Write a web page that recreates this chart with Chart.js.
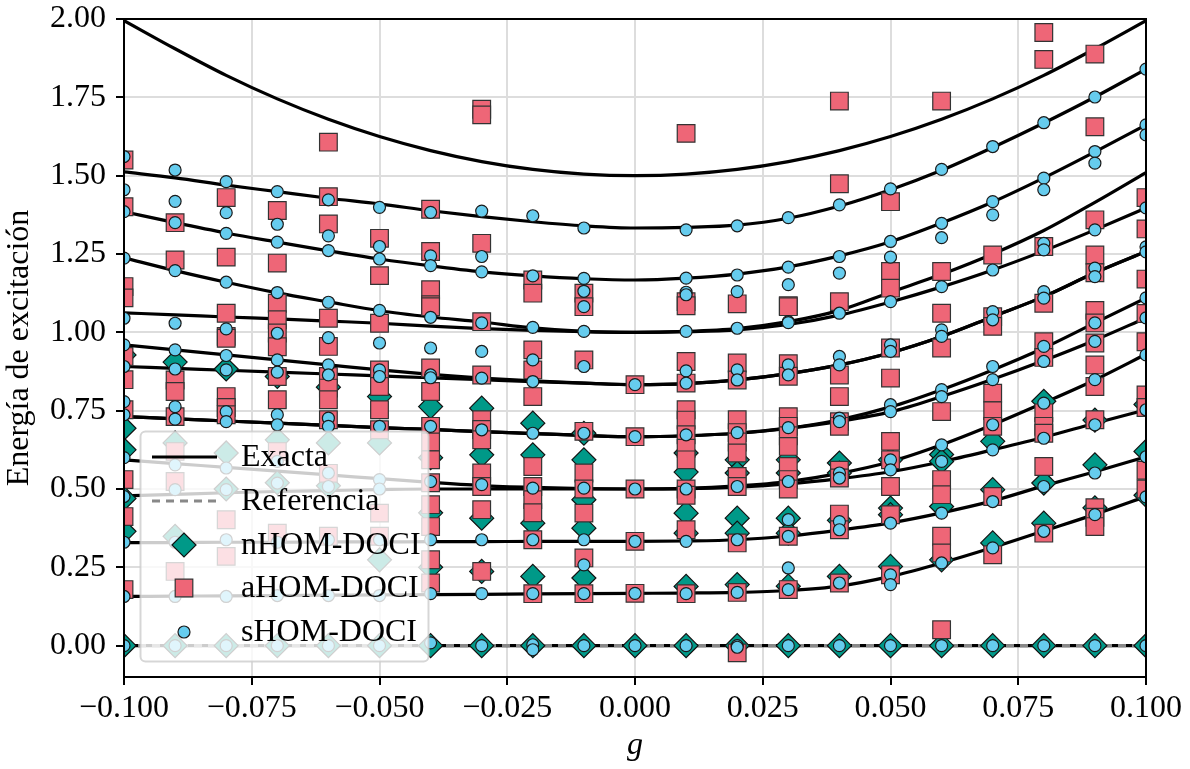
<!DOCTYPE html>
<html>
<head>
<meta charset="utf-8">
<script src="https://cdn.jsdelivr.net/npm/chart.js@4.4.1/dist/chart.umd.min.js"></script>
<style>
  html, body { margin: 0; padding: 0; background: #fff; }
  #wrap { width: 1190px; height: 769px; }
</style>
</head>
<body>
<div id="wrap"><canvas id="myChart" width="1190" height="769"></canvas></div>
<script>
// coupling values g
var gValues = [-0.1, -0.09, -0.08, -0.07, -0.06, -0.05, -0.04, -0.03, -0.02, -0.01, 0,
               0.01, 0.02, 0.03, 0.04, 0.05, 0.06, 0.07, 0.08, 0.09, 0.1];
var xTicks = [-0.1, -0.075, -0.05, -0.025, 0, 0.025, 0.05, 0.075, 0.1];
var yTicks = [0, 0.25, 0.5, 0.75, 1, 1.25, 1.5, 1.75, 2];

// exact excitation energies, one list per state
var e150  = [1.995,1.905,1.82,1.745,1.68,1.625,1.58,1.545,1.52,1.505,1.5,1.505,1.52,1.545,1.58,1.625,1.68,1.745,1.82,1.905,1.995];
var e133  = [1.512,1.493,1.47,1.449,1.428,1.41,1.388,1.369,1.353,1.34,1.333,1.335,1.342,1.364,1.403,1.455,1.517,1.59,1.668,1.751,1.84];
var e117  = [1.385,1.35,1.317,1.288,1.26,1.234,1.212,1.193,1.18,1.171,1.167,1.173,1.186,1.209,1.244,1.289,1.349,1.416,1.493,1.576,1.662];
var e100a = [1.238,1.197,1.16,1.126,1.097,1.069,1.049,1.033,1.014,1.003,1.0,1.003,1.012,1.034,1.07,1.128,1.185,1.25,1.325,1.415,1.51];
var e100b = [1.062,1.056,1.049,1.043,1.036,1.029,1.02,1.012,1.006,1.002,1.0,1.002,1.008,1.025,1.055,1.097,1.145,1.199,1.26,1.327,1.397];
var e083a = [0.96,0.944,0.928,0.912,0.896,0.88,0.866,0.854,0.845,0.838,0.833,0.836,0.848,0.868,0.896,0.935,0.987,1.05,1.114,1.19,1.258];
var e083b = [0.891,0.885,0.879,0.873,0.867,0.861,0.855,0.849,0.843,0.838,0.833,0.836,0.848,0.868,0.896,0.935,0.987,1.05,1.114,1.19,1.258];
var e067a = [0.731,0.724,0.717,0.71,0.703,0.696,0.69,0.683,0.677,0.671,0.667,0.67,0.678,0.694,0.721,0.762,0.817,0.88,0.95,1.03,1.11];
var e067b = [0.731,0.724,0.717,0.71,0.703,0.696,0.69,0.683,0.677,0.671,0.667,0.67,0.678,0.694,0.716,0.746,0.795,0.85,0.91,0.975,1.046];
var e050a = [0.593,0.581,0.569,0.557,0.545,0.533,0.521,0.511,0.505,0.501,0.5,0.502,0.51,0.524,0.55,0.587,0.641,0.705,0.775,0.848,0.93];
var e050b = [0.478,0.483,0.488,0.492,0.495,0.498,0.5,0.5,0.5,0.5,0.5,0.501,0.506,0.516,0.533,0.555,0.587,0.625,0.665,0.71,0.753];
var e033  = [0.329,0.329,0.33,0.33,0.331,0.331,0.332,0.332,0.333,0.333,0.333,0.334,0.338,0.35,0.369,0.392,0.424,0.462,0.51,0.555,0.603];
var e017  = [0.157,0.158,0.159,0.16,0.161,0.162,0.163,0.164,0.165,0.166,0.167,0.168,0.17,0.176,0.19,0.221,0.264,0.313,0.366,0.419,0.476];
var e000  = [0,0,0,0,0,0,0,0,0,0,0,0,0,0,0,0,0,0,0,0,0];
var reference = [0,0,0,0,0,0,0,0,0,0,0,0,0,0,0,0,0,0,0,0,0];

// HOM-DOCI results, one list of energies per g value
var nhom = [
  [0.928,0.694,0.625,0.47,0.365,0],
  [0.905,0.647,0.349,0],
  [0.883,0.615,0.5,0],
  [0.859,0.657,0.52,0],
  [0.825,0.647,0.51,0],
  [0.795,0.647,0.274,0],
  [0.763,0.6,0.424,0.25,0],
  [0.758,0.609,0.407,0.237,0],
  [0.71,0.609,0.391,0.221,0],
  [0.678,0.593,0.466,0.375,0.216,0],
  [0],
  [0.615,0.554,0.423,0.359,0.189,0],
  [0.593,0.551,0.407,0.359,0.195,0],
  [0.593,0.551,0.407,0.359,0.19,0],
  [0.583,0.551,0.4,0.221,0],
  [0.593,0.439,0.418,0.253,0],
  [0.61,0.588,0.444,0.274,0],
  [0.652,0.498,0.328,0],
  [0.78,0.519,0.391,0],
  [0.72,0.577,0.44,0],
  [0.77,0.62,0.48,0]
];
var ahom = [
  [1.55,1.401,1.146,1.11,0.923,0.849,0.753,0.53,0.412,0.179],
  [1.35,1.231,0.848,0.811,0.731,0.62,0.524,0.237],
  [1.43,1.24,1.061,0.987,0.981,0.795,0.76,0.737,0.402,0.285],
  [1.389,1.221,1.093,1.04,0.998,0.954,0.859,0.785,0.62,0.359],
  [1.607,1.433,1.346,1.045,0.955,0.859,0.822,0.785,0.721,0.55,0.349],
  [1.3,1.181,1.029,0.88,0.827,0.753,0.689,0.423,0.349],
  [1.393,1.258,1.136,1.088,1.082,0.886,0.811,0.7,0.65,0.593,0.52,0.45,0.38,0.274,0.2],
  [1.712,1.694,1.284,1.034,0.864,0.721,0.69,0.657,0.551,0.508,0.434,0.237],
  [1.167,1.125,0.944,0.88,0.795,0.572,0.508,0.466,0.424,0.338,0.166],
  [1.125,1.082,0.912,0.684,0.551,0.5,0.423,0.28,0.166],
  [0.833,0.667,0.5,0.333,0.167],
  [1.635,1.098,1.085,0.907,0.838,0.753,0.72,0.673,0.63,0.593,0.5,0.48,0.37,0.166],
  [1.091,0.902,0.848,0.721,0.68,0.65,0.615,0.54,0.508,0.328,0.17,-0.023],
  [1.085,1.082,0.9,0.86,0.731,0.7,0.67,0.636,0.572,0.53,0.5,0.349,0.179],
  [1.738,1.474,1.098,0.864,0.795,0.715,0.7,0.56,0.535,0.42,0.37,0.2],
  [1.417,1.194,1.141,0.95,0.854,0.652,0.593,0.508,0.418,0.226],
  [1.738,1.194,1.061,0.95,0.747,0.53,0.482,0.349,0.296,0.051],
  [1.247,1.05,1.019,0.806,0.75,0.7,0.476,0.29],
  [1.957,1.871,1.274,1.093,0.97,0.92,0.743,0.7,0.678,0.572,0.359],
  [1.888,1.656,1.359,1.247,1.19,1.07,1.03,0.966,0.896,0.827,0.721,0.44,0.41,0.38],
  [1.43,1.33,1.17,1.06,0.97,0.8,0.76,0.56,0.5]
];
var shom = [
  [1.561,1.455,1.385,1.237,1.045,0.96,0.891,0.779,0.737,0.6,0.476,0.33,0.157,0],
  [1.518,1.418,1.35,1.197,1.029,0.944,0.883,0.763,0.723,0.577,0.498,0.33,0.157,0],
  [1.481,1.382,1.316,1.16,1.011,0.926,0.88,0.747,0.715,0.567,0.498,0.338,0.157,0],
  [1.449,1.345,1.288,1.127,0.997,0.912,0.873,0.737,0.705,0.588,0.519,0.33,0.16,0],
  [1.423,1.308,1.261,1.096,0.983,0.896,0.864,0.726,0.7,0.551,0.508,0.338,0.16,0],
  [1.399,1.274,1.234,1.07,0.966,0.88,0.859,0.7,0.53,0.5,0.338,0.16,0],
  [1.383,1.244,1.213,1.048,0.95,0.864,0.855,0.7,0.524,0.338,0.166,0.009],
  [1.387,1.242,1.193,1.03,0.939,0.854,0.689,0.514,0.338,0.166,0],
  [1.372,1.18,1.016,0.912,0.843,0.678,0.503,0.338,0.166,0.003,-0.013],
  [1.333,1.172,1.131,1.082,1.003,0.891,0.678,0.503,0.338,0.258,0.166,0],
  [0.833,0.667,0.5,0.333,0.167,0],
  [1.327,1.173,1.128,1.12,1.003,0.877,0.838,0.673,0.5,0.333,0.166,0],
  [1.34,1.183,1.13,1.013,0.88,0.848,0.68,0.508,0.338,0.17,0,-0.005],
  [1.366,1.208,1.152,1.034,1.031,0.896,0.864,0.696,0.524,0.402,0.349,0.248,0.179,0],
  [1.407,1.242,1.189,1.061,0.923,0.896,0.726,0.715,0.551,0.535,0.396,0.37,0.2,0],
  [1.458,1.29,1.24,1.098,0.96,0.939,0.769,0.747,0.593,0.561,0.391,0.226,0.195,0],
  [1.52,1.348,1.302,1.146,1.008,0.987,0.817,0.795,0.641,0.588,0.423,0.264,0],
  [1.593,1.417,1.375,1.199,1.066,1.04,0.891,0.849,0.705,0.625,0.46,0.312,0],
  [1.669,1.492,1.455,1.284,1.263,1.13,1.109,0.955,0.907,0.774,0.662,0.508,0.365,0],
  [1.751,1.577,1.54,1.327,1.205,1.178,1.03,0.971,0.849,0.705,0.551,0.418,0],
  [1.84,1.662,1.63,1.397,1.273,1.257,1.11,1.046,0.928,0.753,0.603,0.475,0]
];

var exactCurves = [e150, e133, e117, e100a, e100b, e083a, e083b, e067a, e067b, e050a, e050b, e033, e017, e000];

var serif = '"Liberation Serif", "DejaVu Serif", serif';
var fontSize = 32;
var cTeal = '#009988', cRed = '#EE6677', cCyan = '#66CCEE';

function curvePoints(vals) {
  return vals.map(function (v, i) { return { x: gValues[i], y: v }; });
}
function columnPoints(cols) {
  var pts = [];
  cols.forEach(function (col, i) {
    col.forEach(function (v) { pts.push({ x: gValues[i], y: v }); });
  });
  return pts;
}
function fmt(v, d) {
  if (Math.abs(v) < 1e-9) return (0).toFixed(d);
  return (v < 0 ? '\u2212' : '') + Math.abs(v).toFixed(d);
}

var datasets = [];
datasets.push({
  label: 'sHOM-DOCI', data: columnPoints(shom), order: 1, clip: 0,
  pointStyle: 'circle', pointRadius: 6, pointHoverRadius: 6,
  backgroundColor: cCyan, borderColor: '#1a1a1a', borderWidth: 1.2
});
datasets.push({
  label: 'aHOM-DOCI', data: columnPoints(ahom), order: 2, clip: 0,
  pointStyle: 'rect', pointRadius: 12.5, pointHoverRadius: 12.5,
  backgroundColor: cRed, borderColor: '#333', borderWidth: 1.2
});
datasets.push({
  label: 'nHOM-DOCI', data: columnPoints(nhom), order: 3, clip: 0,
  pointStyle: 'rectRot', pointRadius: 12, pointHoverRadius: 12,
  backgroundColor: cTeal, borderColor: '#111', borderWidth: 1.2
});
datasets.push({
  label: 'Referencia', data: curvePoints(reference), order: 4, clip: 0,
  showLine: true, pointRadius: 0, borderColor: '#888888', borderWidth: 3.2, borderDash: [8, 6]
});
exactCurves.forEach(function (c) {
  datasets.push({
    label: 'Exacta', data: curvePoints(c), order: 5, clip: 0,
    showLine: true, pointRadius: 0, borderColor: '#000', borderWidth: 3.2,
    cubicInterpolationMode: 'monotone'
  });
});

// axes frame on all four sides plus the boxed key in the lower left
var frameAndKey = {
  id: 'frameAndKey',
  afterDraw: function (chart) {
    var ctx = chart.ctx, a = chart.chartArea;
    ctx.save();
    ctx.strokeStyle = '#000';
    ctx.lineWidth = 2;
    ctx.strokeRect(a.left, a.top, a.right - a.left, a.bottom - a.top);

    var bx = 140.5, by = 431.5, bw = 288, bh = 230;
    ctx.beginPath();
    ctx.roundRect(bx, by, bw, bh, 5);
    ctx.fillStyle = 'rgba(255,255,255,0.8)';
    ctx.fill();
    ctx.lineWidth = 2;
    ctx.strokeStyle = 'rgba(204,204,204,0.8)';
    ctx.stroke();

    var rows = [457, 501, 545, 588, 632];
    var labels = ['Exacta', 'Referencia', 'nHOM-DOCI', 'aHOM-DOCI', 'sHOM-DOCI'];

    ctx.lineWidth = 3.2;
    ctx.strokeStyle = '#000';
    ctx.beginPath(); ctx.moveTo(152, rows[0]); ctx.lineTo(217, rows[0]); ctx.stroke();

    ctx.strokeStyle = '#888888';
    ctx.setLineDash([8, 6]);
    ctx.beginPath(); ctx.moveTo(152, rows[1]); ctx.lineTo(217, rows[1]); ctx.stroke();
    ctx.setLineDash([]);

    ctx.lineWidth = 1.2;
    ctx.fillStyle = cTeal; ctx.strokeStyle = '#111';
    ctx.beginPath();
    ctx.moveTo(172, rows[2]); ctx.lineTo(184, rows[2] - 12); ctx.lineTo(196, rows[2]); ctx.lineTo(184, rows[2] + 12);
    ctx.closePath(); ctx.fill(); ctx.stroke();

    ctx.fillStyle = cRed; ctx.strokeStyle = '#333';
    ctx.beginPath(); ctx.rect(184 - 8.8, rows[3] - 8.8, 17.6, 17.6); ctx.fill(); ctx.stroke();

    ctx.fillStyle = cCyan; ctx.strokeStyle = '#1a1a1a';
    ctx.beginPath(); ctx.arc(184, rows[4], 6, 0, Math.PI * 2); ctx.fill(); ctx.stroke();

    ctx.fillStyle = '#000';
    ctx.font = fontSize + 'px ' + serif;
    ctx.textBaseline = 'middle';
    labels.forEach(function (t, i) { ctx.fillText(t, 241, rows[i] + 1); });
    ctx.restore();
  }
};

var ctx = document.getElementById('myChart').getContext('2d');
var myChart = new Chart(ctx, {
  type: 'scatter',
  data: { datasets: datasets },
  options: {
    responsive: false,
    animation: false,
    devicePixelRatio: 1,
    events: [],
    layout: { padding: { top: 19, right: 44, left: 0, bottom: 0 } },
    plugins: { legend: { display: false }, tooltip: { enabled: false } },
    scales: {
      x: {
        type: 'linear', min: -0.1, max: 0.1,
        afterBuildTicks: function (s) { s.ticks = xTicks.map(function (v) { return { value: v }; }); },
        afterFit: function (s) { s.height = 92; s.paddingLeft = 0; s.paddingRight = 0; },
        ticks: {
          color: '#000', font: { family: serif, size: fontSize }, padding: 4,
          maxRotation: 0, autoSkip: false,
          callback: function (v) { return fmt(v, 3); }
        },
        grid: { color: '#dddddd', lineWidth: 2, tickColor: '#000', tickLength: 8, tickWidth: 2 },
        border: { color: '#000', width: 2 },
        title: {
          display: true, text: 'g', color: '#000',
          font: { family: serif, size: fontSize, style: 'italic' }, padding: { top: 0, bottom: 4 }
        }
      },
      y: {
        type: 'linear', min: -0.1, max: 2.0,
        afterBuildTicks: function (s) { s.ticks = yTicks.map(function (v) { return { value: v }; }); },
        afterFit: function (s) { s.width = 124; s.paddingTop = 0; s.paddingBottom = 0; },
        ticks: {
          color: '#000', font: { family: serif, size: fontSize }, padding: 10,
          callback: function (v) { return fmt(v, 2); }
        },
        grid: { color: '#dddddd', lineWidth: 2, tickColor: '#000', tickLength: 8, tickWidth: 2 },
        border: { color: '#000', width: 2 },
        title: {
          display: true, text: 'Energía de excitación', color: '#000',
          font: { family: serif, size: fontSize }, padding: { top: 0, bottom: 0 }
        }
      }
    }
  },
  plugins: [frameAndKey]
});
</script>
</body>
</html>
